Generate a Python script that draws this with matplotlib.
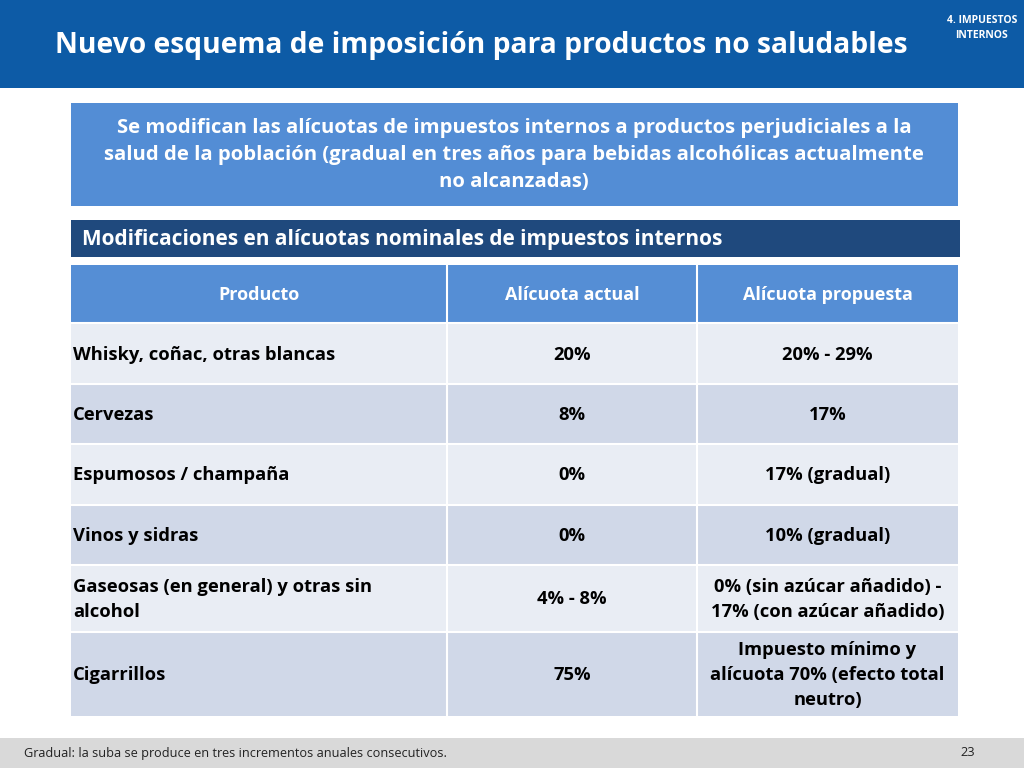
import matplotlib
matplotlib.use("Agg")
import matplotlib.pyplot as plt
from matplotlib.patches import Rectangle

title = "Nuevo esquema de imposición para productos no saludables"
section = "4. IMPUESTOS\nINTERNOS"
summary = ("Se modifican las alícuotas de impuestos internos a productos perjudiciales a la\n"
           "salud de la población (gradual en tres años para bebidas alcohólicas actualmente\n"
           "no alcanzadas)")
subtitle = "Modificaciones en alícuotas nominales de impuestos internos"
headers = ["Producto", "Alícuota actual", "Alícuota propuesta"]
products = ["Whisky, coñac, otras blancas", "Cervezas", "Espumosos / champaña", "Vinos y sidras",
            "Gaseosas (en general) y otras sin\nalcohol", "Cigarrillos"]
actual = ["20%", "8%", "0%", "0%", "4% - 8%", "75%"]
proposed = ["20% - 29%", "17%", "17% (gradual)", "10% (gradual)",
            "0% (sin azúcar añadido) -\n17% (con azúcar añadido)",
            "Impuesto mínimo y\nalícuota 70% (efecto total\nneutro)"]
footnote = "Gradual: la suba se produce en tres incrementos anuales consecutivos."
page = "23"

plt.rcParams["font.family"] = "Open Sans"
fig = plt.figure(figsize=(10.24, 7.68), dpi=100)
ax = fig.add_axes([0, 0, 1, 1])
ax.set_xlim(0, 1024); ax.set_ylim(768, 0); ax.axis("off")

def rect(x0, y0, x1, y1, c):
    ax.add_patch(Rectangle((x0, y0), x1 - x0, y1 - y0, facecolor=c, edgecolor="none"))

rect(0, 0, 1024, 88, "#0D5BA6")
ax.text(55, 46, title, color="white", fontsize=20.3, fontweight="bold", va="center", ha="left")
ax.text(982, 28, section, color="white", fontsize=7.5, fontweight="bold", va="center", ha="center", linespacing=1.4)

rect(71, 103, 958, 206, "#538DD5")
ax.text(514, 155, summary, color="white", fontsize=14.6, fontweight="bold", ha="center", va="center", linespacing=1.45)

rect(71, 220, 960, 257, "#1F497D")
ax.text(82, 239, subtitle, color="white", fontsize=15, fontweight="bold", ha="left", va="center")

cols = [71, 447, 697, 958]
rows = [265, 323, 384, 444, 505, 565, 632, 716]
rect(cols[0], rows[0], cols[3], rows[1], "#558ED5")
for j, h in enumerate(headers):
    ax.text((cols[j] + cols[j+1]) / 2, (rows[0] + rows[1]) / 2 + 1, h, color="white", fontsize=13,
            fontweight="bold", ha="center", va="center")
for i in range(len(products)):
    c = "#E9EDF4" if i % 2 == 0 else "#D0D8E8"
    rect(cols[0], rows[i+1], cols[3], rows[i+2], c)
    yc = (rows[i+1] + rows[i+2]) / 2 + 1
    kw = dict(fontsize=13.2, fontweight="bold", va="center", color="black", linespacing=1.5)
    ax.text(cols[0] + 2, yc, products[i], ha="left", **kw)
    ax.text((cols[1] + cols[2]) / 2, yc, actual[i], ha="center", **kw)
    ax.text((cols[2] + cols[3]) / 2, yc, proposed[i], ha="center", **kw)
for x in cols[1:3]:
    ax.plot([x, x], [rows[0], rows[-1]], color="white", lw=1.5)
for y in rows[1:-1]:
    ax.plot([cols[0], cols[3]], [y, y], color="white", lw=1.5)

rect(0, 738, 1024, 768, "#D9D9D9")
ax.text(24, 753, footnote, fontsize=9.2, va="center", ha="left", color="#222222")
ax.text(975, 753, page, fontsize=9.2, va="center", ha="right", color="#222222")

fig.savefig("out.png", dpi=100)
